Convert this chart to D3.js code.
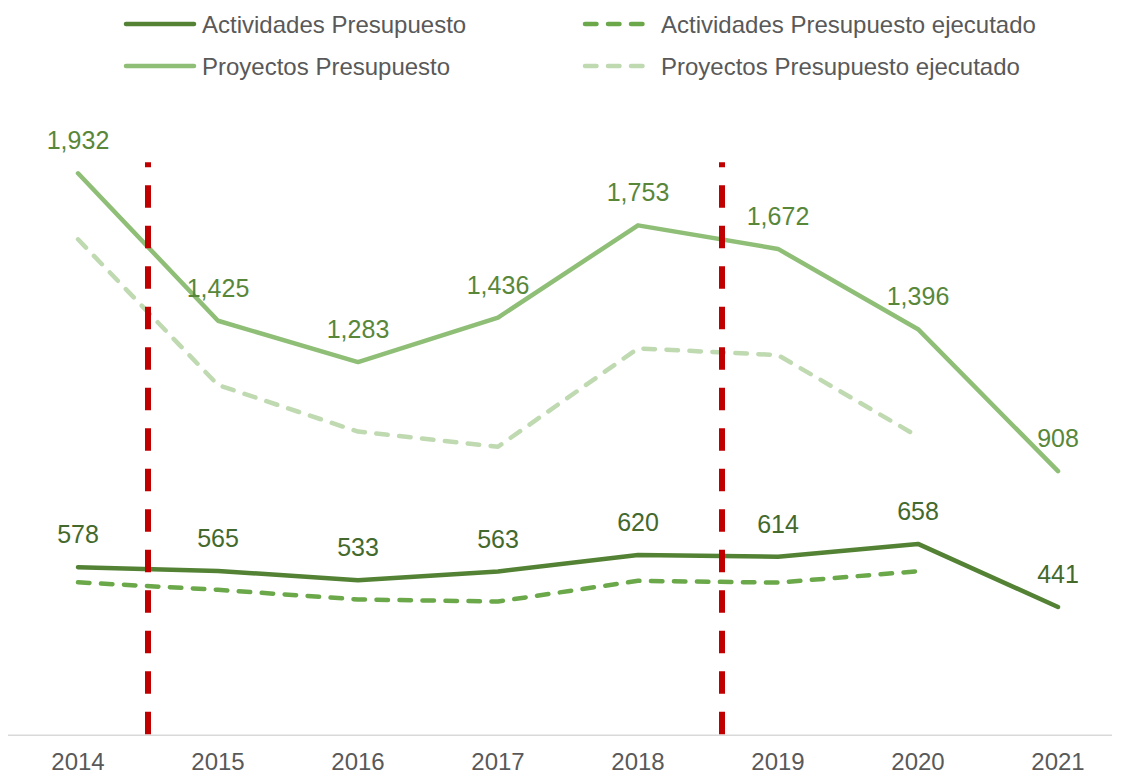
<!DOCTYPE html>
<html>
<head>
<meta charset="utf-8">
<script src="https://cdn.jsdelivr.net/npm/d3@7"></script>
<style>
  html, body { margin: 0; padding: 0; background: #ffffff; }
  svg { display: block; font-family: "Liberation Sans", Arial, sans-serif; }
</style>
</head>
<body>
<svg id="chart" width="1122" height="776"></svg>
<script>
// Years on the category axis
const years = ["2014", "2015", "2016", "2017", "2018", "2019", "2020", "2021"];

// Budget series (millions)
const actividadesPresupuesto = [578, 565, 533, 563, 620, 614, 658, 441];
const actividadesEjecutado   = [526, 500, 467, 460, 531, 525, 564, null];
const proyectosPresupuesto   = [1932, 1425, 1283, 1436, 1753, 1672, 1396, 908];
const proyectosEjecutado     = [1705, 1204, 1044, 992, 1330, 1307, 1027, null];

// Period markers, in category units along the x axis
const periodMarkers = [0.5, 4.6];
const markerTopValue = 1970;

const svg = d3.select("#chart");

const x = d3.scalePoint().domain(years).range([78, 1058]);
const step = x.step();
const y = d3.scaleLinear().domain([0, 2000]).range([735.3, 153.5]);
const xAt = i => x(years[0]) + i * step;

const series = [
  { name: "Actividades Presupuesto", values: actividadesPresupuesto, color: "#548235", dash: null, labels: true, labelColor: "#43692c" },
  { name: "Actividades Presupuesto ejecutado", values: actividadesEjecutado, color: "#6aa84a", dash: "11.5,11.5", labels: false },
  { name: "Proyectos Presupuesto", values: proyectosPresupuesto, color: "#8fbe77", dash: null, labels: true, labelColor: "#58873a" },
  { name: "Proyectos Presupuesto ejecutado", values: proyectosEjecutado, color: "#bfd9b1", dash: "11.5,11.5", labels: false }
];

// Category axis baseline
svg.append("line")
  .attr("x1", 8).attr("x2", 1112)
  .attr("y1", y(0)).attr("y2", y(0))
  .attr("stroke", "#d9d9d9").attr("stroke-width", 1.5);

// Year tick labels
svg.append("g").selectAll("text")
  .data(years).join("text")
  .attr("x", d => x(d)).attr("y", 770)
  .attr("text-anchor", "middle")
  .attr("font-size", 24)
  .attr("fill", "#595959")
  .text(d => d);

const line = d3.line()
  .defined(d => d.v != null)
  .x(d => x(d.year))
  .y(d => y(d.v));

// Draw lighter/executed series first, then the budget lines on top
const drawOrder = [3, 2, 1, 0];
drawOrder.forEach(k => {
  const s = series[k];
  const pts = years.map((yr, i) => ({ year: yr, v: s.values[i] }));
  svg.append("path")
    .datum(pts)
    .attr("d", line)
    .attr("fill", "none")
    .attr("stroke", s.color)
    .attr("stroke-width", 4.5)
    .attr("stroke-linejoin", "round")
    .attr("stroke-linecap", "round")
    .attr("stroke-dasharray", s.dash);
});

// Red dashed period markers
svg.append("g").selectAll("line")
  .data(periodMarkers).join("line")
  .attr("x1", d => xAt(d)).attr("x2", d => xAt(d))
  .attr("y1", y(markerTopValue)).attr("y2", y(0))
  .attr("stroke", "#c00000")
  .attr("stroke-width", 6)
  .attr("stroke-dasharray", "22.5,18")
  .attr("stroke-dashoffset", 17.5);

// Value labels above the budget lines
const fmt = d3.format(",");
series.filter(s => s.labels).forEach(s => {
  svg.append("g").selectAll("text")
    .data(years.map((yr, i) => ({ year: yr, v: s.values[i] })))
    .join("text")
    .attr("x", d => x(d.year))
    .attr("y", d => y(d.v) - 24)
    .attr("text-anchor", "middle")
    .attr("font-size", 25)
    .attr("fill", s.labelColor)
    .text(d => fmt(d.v));
});

// Legend: two columns, two rows
const legendPos = [
  { x: 126, y: 24 },
  { x: 585, y: 24 },
  { x: 126, y: 66 },
  { x: 585, y: 66 }
];
const legend = svg.append("g");
series.forEach((s, i) => {
  const p = legendPos[i];
  const g = legend.append("g").attr("transform", `translate(${p.x},${p.y})`);
  g.append("line")
    .attr("x1", 0).attr("x2", s.dash ? 60 : 68)
    .attr("y1", 0).attr("y2", 0)
    .attr("stroke", s.color)
    .attr("stroke-width", 4.5)
    .attr("stroke-linecap", "round")
    .attr("stroke-dasharray", s.dash);
  g.append("text")
    .attr("x", 76).attr("y", 8.5)
    .attr("font-size", 24)
    .attr("fill", "#595959")
    .text(s.name);
});
</script>
</body>
</html>
